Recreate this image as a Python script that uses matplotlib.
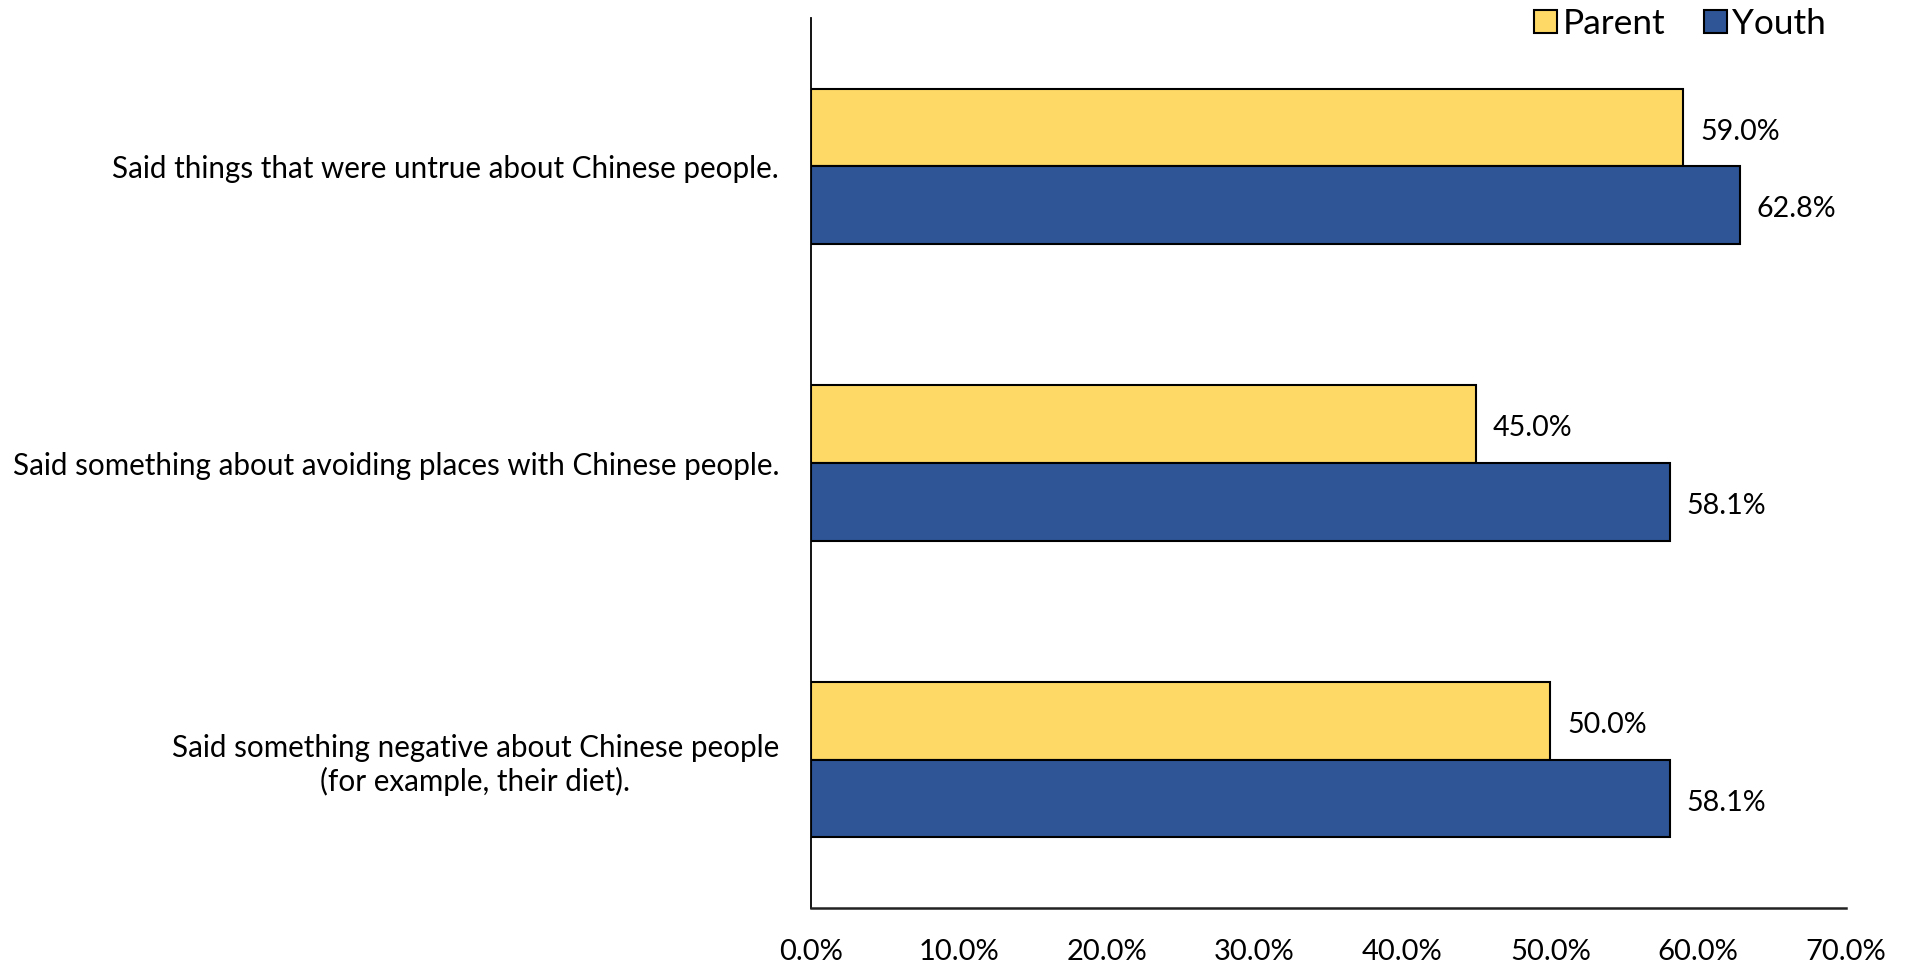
import matplotlib
matplotlib.use("Agg")
import matplotlib.pyplot as plt
import numpy as np

categories = [
    "Said things that were untrue about Chinese people.",
    "Said something about avoiding places with Chinese people.",
    "Said something negative about Chinese people\n(for example, their diet).",
]
parent = [59.0, 45.0, 50.0]
youth = [62.8, 58.1, 58.1]
series_names = ["Parent", "Youth"]
xticks = [0, 10, 20, 30, 40, 50, 60, 70]

plt.rcParams['font.family'] = ['Lato', 'DejaVu Sans']

fig = plt.figure(figsize=(19.09, 9.67), dpi=100)
ax = fig.add_axes([811/1909, 1-908/967, (1846-811)/1909, (908-18)/967])

y = np.arange(len(categories))
h = 0.262
bp = ax.barh(y - h/2, parent, height=h, color="#FFD966", edgecolor="black", linewidth=1.5, label=series_names[0])
by = ax.barh(y + h/2, youth, height=h, color="#2F5597", edgecolor="black", linewidth=1.5, label=series_names[1])

for bars, vals in ((bp, parent), (by, youth)):
    for b, v in zip(bars, vals):
        ax.annotate(f"{v:.1f}%", xy=(v, b.get_y() + b.get_height()/2),
                    xytext=(12, -3), textcoords="offset points",
                    va="center", ha="left", fontsize=20.6)

ax.set_xlim(0, 70)
ax.set_ylim(2.5, -0.5)
ax.set_xticks(xticks)
ax.set_xticklabels([f"{t:.1f}%" for t in xticks], fontsize=21)
ax.set_yticks(y)
ax.set_yticklabels(categories, fontsize=21.3)
for lbl in ax.get_yticklabels():
    lbl.set_multialignment("center")
ax.tick_params(axis="both", length=0)
ax.tick_params(axis="x", pad=22)
ax.tick_params(axis="y", pad=23)
for s in ("top", "right"):
    ax.spines[s].set_visible(False)
ax.spines["left"].set_linewidth(1.3)
ax.spines["bottom"].set_linewidth(1.8)
ax.spines["left"].set_color("black")
ax.spines["bottom"].set_color("#222222")

leg = fig.legend(handles=[bp, by], labels=series_names, loc="upper right",
                 bbox_to_anchor=(1826/1909, 1 - 8/967), ncol=2, frameon=False,
                 fontsize=25.4, handlelength=0.65, handleheight=0.65, handletextpad=0.15,
                 columnspacing=1.1, borderaxespad=0, borderpad=0)

fig.savefig("out.png", dpi=100)
